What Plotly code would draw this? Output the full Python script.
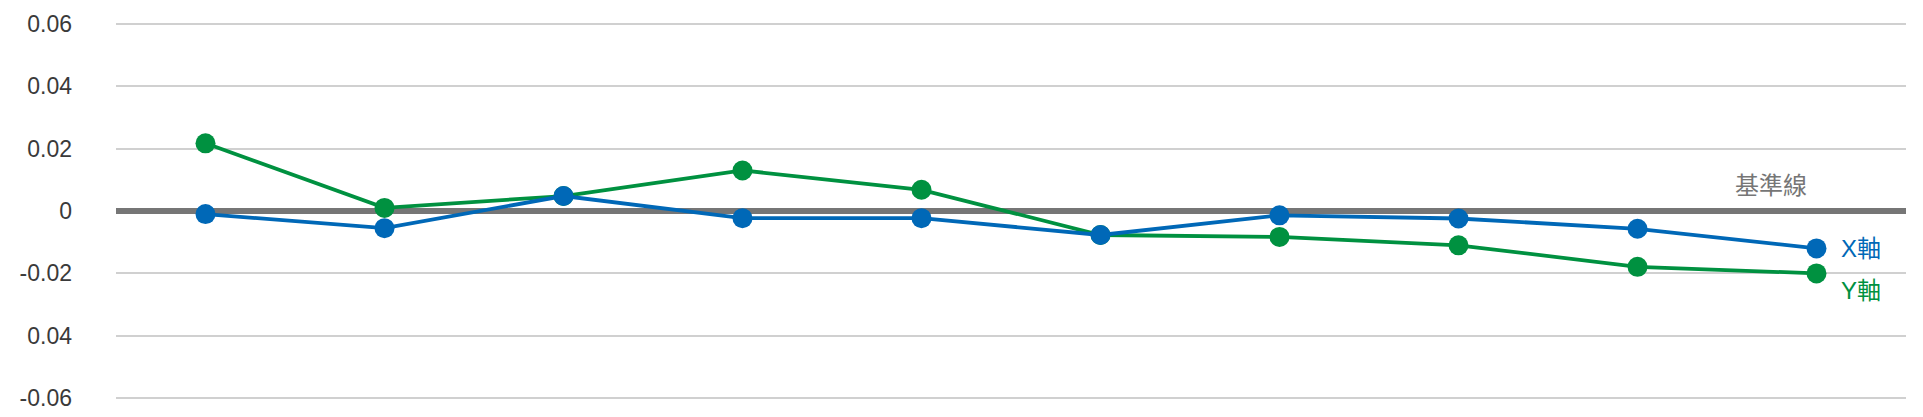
import plotly.graph_objects as go

# measurement index (no x labels are shown on the chart)
points = list(range(10))
x_axis = [-0.001, -0.0055, 0.0048, -0.0023, -0.0023, -0.0077, -0.0014, -0.0024, -0.0057, -0.012]
y_axis = [0.0217, 0.001, 0.0048, 0.013, 0.0068, -0.0077, -0.0083, -0.011, -0.0179, -0.020]

tick_vals = [0.06, 0.04, 0.02, 0, -0.02, -0.04, -0.06]
tick_text = ["0.06", "0.04", "0.02", "0", "-0.02", "0.04", "-0.06"]
grid_vals = [v for v in tick_vals if v != 0]

BLUE = "#0068b7"
GREEN = "#009140"
GREY = "#767676"
FONT = "Liberation Sans, Noto Sans CJK TC, sans-serif"

fig = go.Figure()
fig.add_trace(go.Scatter(
    x=points, y=y_axis, mode="lines+markers", name="Y軸",
    line={"color": GREEN, "width": 3.8},
    marker={"color": GREEN, "size": 20},
))
fig.add_trace(go.Scatter(
    x=points, y=x_axis, mode="lines+markers", name="X軸",
    line={"color": BLUE, "width": 3.8},
    marker={"color": BLUE, "size": 20},
))

last = points[-1]
fig.add_annotation(x=last, y=x_axis[-1], text="X軸", showarrow=False,
                   xanchor="left", xshift=22, font={"color": BLUE, "size": 24})
fig.add_annotation(x=last, y=y_axis[-1], text="Y軸", showarrow=False,
                   xanchor="left", xshift=22, yshift=-17, font={"color": GREEN, "size": 24})
fig.add_annotation(x=last, y=0, text="基準線", showarrow=False,
                   xanchor="right", xshift=-8, yshift=26, font={"color": GREY, "size": 24})

fig.update_layout(
    width=1923,
    height=417,
    margin={"l": 116, "r": 17, "t": 22, "b": 17, "autoexpand": False},
    paper_bgcolor="white",
    plot_bgcolor="white",
    showlegend=False,
    font={"family": FONT, "size": 23, "color": "#3a3a3a"},
)
fig.update_xaxes(range=[-0.5, 9.5], showgrid=False, showticklabels=False,
                 zeroline=False, showline=False, automargin=False)
# light grid from minor ticks so the thick zero baseline stays clean
fig.update_yaxes(range=[-0.0606, 0.0606], tickvals=tick_vals, ticktext=tick_text,
                 showgrid=False, showline=False, ticklabelstandoff=43, automargin=False,
                 zeroline=True, zerolinecolor=GREY, zerolinewidth=5.5,
                 minor={"tickvals": grid_vals, "showgrid": True,
                        "gridcolor": "#d0d0d0", "gridwidth": 1.5})

# the page body has a default 8px margin; drop it so the chart fills the window
fig.write_html("out.html", config={"displayModeBar": False},
               post_script="document.body.style.margin = '0';")
